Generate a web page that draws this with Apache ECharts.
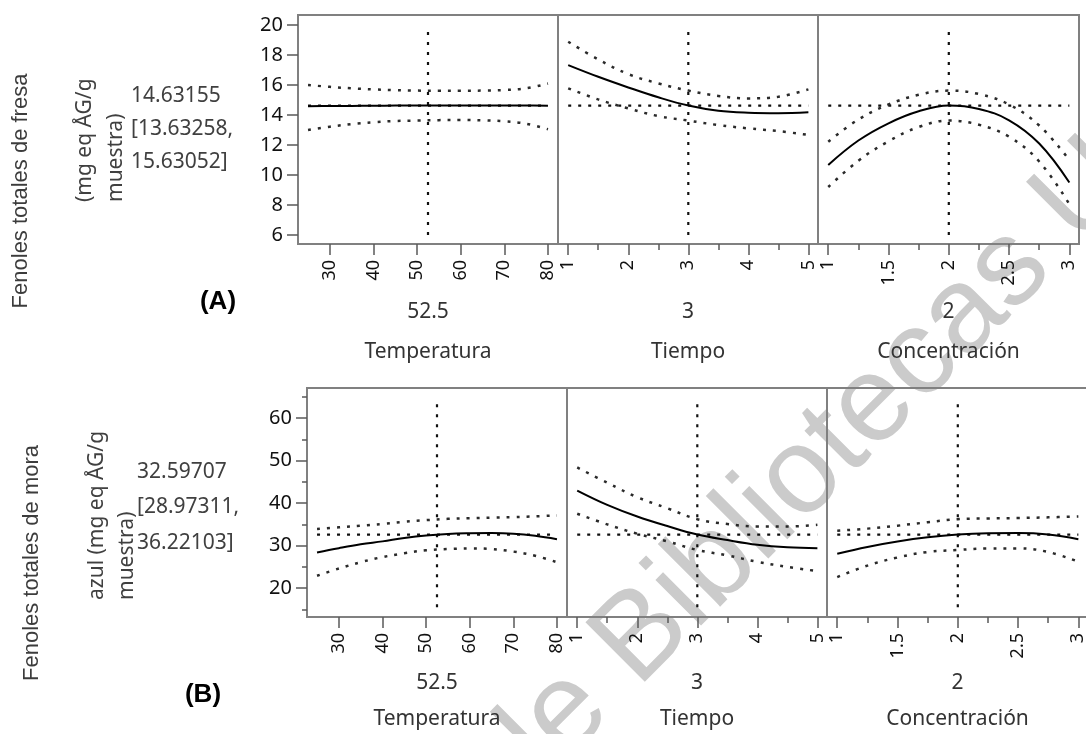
<!DOCTYPE html>
<html><head><meta charset="utf-8">
<script src="https://cdn.jsdelivr.net/npm/echarts@6/dist/echarts.min.js"></script>
<style>html,body{margin:0;padding:0;background:#fff}#c{width:1086px;height:734px}</style>
</head><body><div id="c"></div>
<script>
// ---------- data ----------
const tempX = [25,30,35,40,45,50,55,60,65,70,75,80];
const timeX = [1,1.5,2,2.5,3,3.5,4,4.5,5];
const concX = [1,1.25,1.5,1.75,2,2.25,2.5,2.75,3];

const fresaTempPred  = [14.58,14.6,14.61,14.62,14.63,14.63,14.63,14.63,14.63,14.63,14.63,14.62];
const fresaTempUpper = [16.0,15.88,15.78,15.71,15.66,15.63,15.62,15.62,15.63,15.67,15.78,16.1];
const fresaTempLower = [13.0,13.22,13.4,13.52,13.6,13.63,13.66,13.67,13.65,13.58,13.42,13.05];
const fresaTimePred  = [17.33,16.55,15.84,15.18,14.63,14.28,14.15,14.12,14.18];
const fresaTimeUpper = [18.89,17.71,16.73,16.11,15.63,15.27,15.11,15.22,15.71];
const fresaTimeLower = [15.78,15.04,14.44,13.93,13.63,13.33,13.11,12.93,12.67];
const fresaConcPred  = [10.67,12.3,13.45,14.25,14.63,14.4,13.65,12.1,9.5];
const fresaConcUpper = [12.22,13.7,14.7,15.35,15.63,15.4,14.7,13.3,11.0];
const fresaConcLower = [9.2,10.95,12.25,13.2,13.63,13.35,12.55,10.9,8.05];

const moraTempPred  = [28.4,29.4,30.3,31.0,31.8,32.4,32.75,32.9,32.95,32.8,32.3,31.5];
const moraTempUpper = [33.9,34.3,34.7,35.1,35.6,36.0,36.3,36.45,36.6,36.7,36.9,37.1];
const moraTempLower = [22.9,24.6,26.1,27.3,28.2,28.9,29.2,29.35,29.2,28.6,27.6,26.1];
const moraTimePred  = [42.97,39.6,36.85,34.6,32.6,31.3,30.2,29.6,29.4];
const moraTimeUpper = [48.4,44.8,41.4,38.8,36.22,35.1,34.5,34.5,34.9];
const moraTimeLower = [37.5,35.0,32.8,31.0,28.97,27.7,26.2,25.0,24.0];
const moraConcPred  = [28.07,29.7,30.97,31.95,32.6,32.9,32.95,32.6,31.5];
const moraConcUpper = [33.5,34.0,34.7,35.5,36.22,36.4,36.5,36.65,36.85];
const moraConcLower = [22.6,25.3,27.2,28.5,28.97,29.35,29.35,28.5,26.2];

const currentSettings = [52.5, 3, 2];
const factorNames = ['Temperatura', 'Tiempo', 'Concentración'];
const fresaSummary = ['14.63155', '13.63258', '15.63052'];
const moraSummary  = ['32.59707', '28.97311', '36.22103'];
const fresaPredValue = 14.63155;
const moraPredValue  = 32.59707;
const fresaRefSpan = [6, 20];
const moraRefSpan  = [15.5, 64.5];

const tempTicks = [30,40,50,60,70,80];
const timeTicks = [1,2,3,4,5];
const timeMinor = [1.5,2.5,3.5,4.5];
const concTicks = [1,1.5,2,2.5,3];
const concMinor = [1.25,1.75,2.25,2.75];
const fresaYTicks = [6,8,10,12,14,16,18,20];
const moraYTicks  = [20,30,40,50,60];
const moraYMinor  = [15,25,35,45,55,65];

const tempRange = [22.7, 82.3];
const timeRange = [0.83, 5.16];
const concRange = [0.915, 3.08];
const fresaYRange = [5.4, 20.67];
const moraYRange  = [13.2, 67.1];

// ---------- layout ----------
const F = '"Noto Sans", sans-serif';
const rows = [
  {top: 15, height: 229, lefts: [298, 558, 818], widths: [260, 260, 261], nameGap: 48, lineH: 40},
  {top: 388, height: 229, lefts: [307, 567, 827], widths: [260, 260, 261], nameGap: 48, lineH: 36}
];
const zip = (a, b) => a.map((v, i) => [v, b[i]]);

const panels = [
  {row:0, col:0, xs:tempX, pred:fresaTempPred, up:fresaTempUpper, lo:fresaTempLower, xr:tempRange, ticks:tempTicks, minor:null},
  {row:0, col:1, xs:timeX, pred:fresaTimePred, up:fresaTimeUpper, lo:fresaTimeLower, xr:timeRange, ticks:timeTicks, minor:timeMinor},
  {row:0, col:2, xs:concX, pred:fresaConcPred, up:fresaConcUpper, lo:fresaConcLower, xr:concRange, ticks:concTicks, minor:concMinor},
  {row:1, col:0, xs:tempX, pred:moraTempPred, up:moraTempUpper, lo:moraTempLower, xr:tempRange, ticks:tempTicks, minor:null},
  {row:1, col:1, xs:timeX, pred:moraTimePred, up:moraTimeUpper, lo:moraTimeLower, xr:timeRange, ticks:timeTicks, minor:timeMinor},
  {row:1, col:2, xs:concX, pred:moraConcPred, up:moraConcUpper, lo:moraConcLower, xr:concRange, ticks:concTicks, minor:concMinor}
];

const grid = [], xAxis = [], yAxis = [], series = [];
const tickColor = '#5a5a5a';
panels.forEach((p, i) => {
  const R = rows[p.row];
  grid.push({left: R.lefts[p.col], top: R.top, width: R.widths[p.col], height: R.height,
    show: true, borderColor: '#808080', borderWidth: 2, backgroundColor: 'transparent',
    containLabel: false, outerBoundsMode: 'none'});
  xAxis.push({type: 'value', gridIndex: i, min: p.xr[0], max: p.xr[1], position: 'bottom',
    axisLine: {show: false}, splitLine: {show: false},
    axisTick: {show: true, length: 11, lineStyle: {color: tickColor, width: 1.5}, customValues: p.ticks},
    axisLabel: {show: true, rotate: 90, margin: 16, fontSize: 18, color: '#111', fontFamily: F, customValues: p.ticks},
    name: currentSettings[p.col] + '\n' + factorNames[p.col], nameLocation: 'middle', nameGap: R.nameGap,
    nameMoveOverlap: false,
    nameTextStyle: {fontFamily: F, fontSize: 21, color: '#333', lineHeight: R.lineH}
  });
  const yr = p.row === 0 ? fresaYRange : moraYRange;
  const yt = p.row === 0 ? fresaYTicks : moraYTicks;
  yAxis.push({type: 'value', gridIndex: i, min: yr[0], max: yr[1], position: 'left',
    show: p.col === 0,
    axisLine: {show: false}, splitLine: {show: false},
    axisTick: {show: true, length: 11, lineStyle: {color: tickColor, width: 1.5}, customValues: yt},
    axisLabel: {show: true, margin: 15, fontSize: 20, color: '#111', fontFamily: F, customValues: yt}
  });
  const predV = p.row === 0 ? fresaPredValue : moraPredValue;
  const span = p.row === 0 ? fresaRefSpan : moraRefSpan;
  const base = {type: 'line', xAxisIndex: i, yAxisIndex: i, showSymbol: false, symbol: 'none', silent: true, animation: false};
  const dotted = {color: '#2a2a2a', width: 2.5, type: [3, 7], cap: 'butt'};
  series.push(Object.assign({}, base, {data: [[currentSettings[p.col], span[0]], [currentSettings[p.col], span[1]]],
    lineStyle: {color: '#111', width: 2.2, type: [3, 7]}, z: 3}));
  series.push(Object.assign({}, base, {data: [[p.xs[0], predV], [p.xs[p.xs.length - 1], predV]],
    lineStyle: {color: '#111', width: 2.2, type: [3, 7]}, z: 3}));
  series.push(Object.assign({}, base, {data: zip(p.xs, p.up), smooth: 0.4, lineStyle: dotted, z: 4}));
  series.push(Object.assign({}, base, {data: zip(p.xs, p.lo), smooth: 0.4, lineStyle: dotted, z: 4}));
  series.push(Object.assign({}, base, {data: zip(p.xs, p.pred), smooth: 0.4, lineStyle: {color: '#000', width: 2}, z: 5}));
});
// minor tick axes
panels.forEach((p, i) => {
  if (p.minor) {
    xAxis.push({type: 'value', gridIndex: i, min: p.xr[0], max: p.xr[1], position: 'bottom',
      axisLine: {show: false}, splitLine: {show: false}, axisLabel: {show: false},
      axisTick: {show: true, length: 6, lineStyle: {color: tickColor, width: 1.5}, customValues: p.minor}});
  }
});
yAxis.push({type: 'value', gridIndex: 3, min: moraYRange[0], max: moraYRange[1], position: 'left',
  axisLine: {show: false}, splitLine: {show: false}, axisLabel: {show: false},
  axisTick: {show: true, length: 5, lineStyle: {color: tickColor, width: 1.5}, customValues: moraYMinor}});

const ARIAL = '"Liberation Sans", Arial, sans-serif';
const graphic = [
  {type: 'text', x: 494, y: 785, rotation: Math.PI / 4, z: -10, silent: true,
    style: {text: 'de Bibliotecas UA', font: '122px ' + ARIAL, fill: '#cbcbcb', align: 'left', verticalAlign: 'middle'}},
  {type: 'text', x: 21, y: 191, rotation: Math.PI / 2, z: 100,
    style: {text: 'Fenoles totales de fresa', font: '22px ' + ARIAL, fill: '#3c3c3c', align: 'center', verticalAlign: 'middle'}},
  {type: 'text', x: 70, y: 202, rotation: Math.PI / 2, z: 100,
    style: {text: '(mg eq ÅG/g\nmuestra)', font: '21px ' + F, fill: '#404040', align: 'left', verticalAlign: 'top', lineHeight: 31}},
  {type: 'text', x: 131, y: 80, z: 100,
    style: {text: fresaSummary[0] + '\n[' + fresaSummary[1] + ',\n' + fresaSummary[2] + ']', font: '21px ' + F, fill: '#404040', align: 'left', verticalAlign: 'top', lineHeight: 33}},
  {type: 'text', x: 218, y: 302, z: 100,
    style: {text: '(A)', font: 'bold 26px ' + ARIAL, fill: '#000', align: 'center', verticalAlign: 'middle'}},
  {type: 'text', x: 32, y: 563, rotation: Math.PI / 2, z: 100,
    style: {text: 'Fenoles totales de mora', font: '22px ' + ARIAL, fill: '#3c3c3c', align: 'center', verticalAlign: 'middle'}},
  {type: 'text', x: 82, y: 600, rotation: Math.PI / 2, z: 100,
    style: {text: 'azul (mg eq ÅG/g\nmuestra)', font: '21px ' + F, fill: '#404040', align: 'left', verticalAlign: 'top', lineHeight: 30}},
  {type: 'text', x: 137, y: 454, z: 100,
    style: {text: moraSummary[0] + '\n[' + moraSummary[1] + ',\n' + moraSummary[2] + ']', font: '21px ' + F, fill: '#404040', align: 'left', verticalAlign: 'top', lineHeight: 35.5}},
  {type: 'text', x: 203, y: 695, z: 100,
    style: {text: '(B)', font: 'bold 26px ' + ARIAL, fill: '#000', align: 'center', verticalAlign: 'middle'}}
];

const chart = echarts.init(document.getElementById('c'), null, {renderer: 'canvas'});
chart.setOption({animation: false, backgroundColor: '#fff', grid, xAxis, yAxis, series, graphic});
</script></body></html>
